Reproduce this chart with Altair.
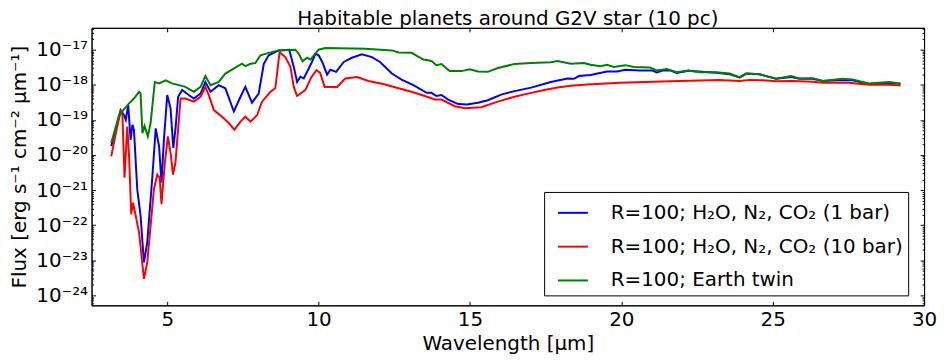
import altair as alt
import pandas as pd

# ---- data (wavelength in micron, log10 flux) ----
wl_blue = [3.15, 3.30, 3.46, 3.57, 3.63, 3.71, 3.79, 3.85, 3.90, 4.01, 4.12, 4.23, 4.34, 4.51,
           4.62, 4.73, 4.81, 4.89, 5.00, 5.11, 5.20, 5.27, 5.36, 5.49, 5.71, 5.88, 6.10, 6.26,
           6.43, 6.70, 6.92, 7.20, 7.42, 7.58, 7.80, 8.02, 8.19, 8.35, 8.68, 9.03, 9.18, 9.29,
           9.40, 9.51, 9.78, 9.90, 10.00, 10.12, 10.28, 10.39, 10.58, 10.83, 11.10, 11.43, 11.76,
           12.03, 12.42, 12.74, 13.13, 13.57, 13.73, 13.89, 14.06, 14.28, 14.61, 14.90, 15.26,
           15.59, 16.03, 16.47, 17.02, 17.67, 18.22, 18.43, 18.60, 18.98, 19.53, 19.86, 20.13,
           20.62, 21.01, 21.17, 21.39, 21.61, 21.83, 22.21, 23.14, 23.58, 23.91, 24.13, 24.57,
           25.11, 25.61, 25.88, 26.32, 26.65, 27.30, 27.63, 28.18, 28.84, 29.22]
lf_blue = [-19.75, -19.28, -18.72, -18.86, -19.00, -18.58, -19.57, -19.14, -19.28, -20.98, -21.74,
           -23.06, -22.49, -20.60, -19.24, -19.75, -20.79, -19.57, -18.29, -18.67, -19.80, -19.28,
           -18.34, -18.15, -18.29, -18.39, -18.25, -17.92, -18.20, -18.01, -18.10, -18.76, -18.34,
           -18.06, -18.51, -18.25, -17.40, -17.16, -17.02, -17.00, -17.49, -17.92, -17.77, -17.82,
           -17.35, -17.11, -17.16, -17.35, -17.71, -17.57, -17.63, -17.35, -17.23, -17.13, -17.21,
           -17.35, -17.68, -17.85, -18.01, -18.23, -18.23, -18.32, -18.29, -18.42, -18.55, -18.56,
           -18.51, -18.44, -18.28, -18.18, -18.08, -17.92, -17.82, -17.83, -17.75, -17.72, -17.62,
           -17.62, -17.57, -17.59, -17.59, -17.65, -17.59, -17.59, -17.66, -17.60, -17.66, -17.70,
           -17.79, -17.68, -17.70, -17.83, -17.78, -17.83, -17.83, -17.89, -17.86, -17.87, -17.98,
           -17.94, -17.98]

wl_red = [3.15, 3.30, 3.46, 3.52, 3.59, 3.68, 3.74, 3.81, 3.87, 3.96, 4.07, 4.23, 4.34, 4.45,
          4.56, 4.67, 4.75, 4.81, 4.92, 5.02, 5.11, 5.19, 5.27, 5.44, 5.60, 5.88, 6.10, 6.26,
          6.37, 6.54, 6.81, 7.03, 7.22, 7.42, 7.58, 7.75, 7.97, 8.13, 8.41, 8.57, 8.71, 8.90,
          9.07, 9.18, 9.29, 9.40, 9.56, 9.75, 9.93, 10.05, 10.20, 10.39, 10.61, 10.88, 11.27,
          11.65, 12.20, 12.64, 13.07, 13.51, 13.84, 14.06, 14.50, 14.83, 15.37, 15.92, 16.47,
          17.02, 17.50, 17.89, 18.33, 18.87, 19.97, 21.61, 23.25, 23.91, 24.24, 24.68, 25.11,
          25.66, 26.32, 26.65, 27.52, 28.18, 28.84, 29.22]
lf_red = [-20.04, -19.38, -18.76, -18.86, -20.65, -19.19, -20.04, -21.69, -21.36, -21.74, -22.21,
          -23.53, -23.06, -22.02, -20.98, -20.56, -20.65, -21.40, -20.23, -19.47, -19.94, -20.56,
          -20.23, -18.39, -18.39, -18.48, -18.34, -18.06, -18.29, -18.72, -18.91, -19.09, -19.28,
          -19.05, -18.91, -19.05, -18.86, -18.48, -18.20, -18.10, -17.07, -17.21, -17.49, -18.06,
          -18.32, -18.25, -18.15, -17.80, -17.58, -17.66, -18.06, -18.06, -18.06, -17.82, -17.78,
          -17.89, -17.99, -18.10, -18.20, -18.32, -18.42, -18.42, -18.61, -18.67, -18.64, -18.48,
          -18.34, -18.23, -18.14, -18.08, -18.03, -17.99, -17.94, -17.90, -17.86, -17.89, -17.86,
          -17.87, -17.90, -17.89, -17.91, -17.94, -17.94, -18.00, -18.00, -18.02]

wl_green = [3.15, 3.41, 3.74, 3.90, 4.07, 4.12, 4.18, 4.25, 4.36, 4.45, 4.59, 4.73, 4.95, 5.16,
            5.38, 5.60, 5.88, 6.10, 6.26, 6.43, 6.70, 6.92, 7.14, 7.47, 7.58, 7.75, 7.91, 8.08,
            8.35, 8.68, 9.23, 9.34, 9.47, 9.62, 9.73, 10.00, 10.22, 11.54, 12.42, 12.64, 13.07,
            13.46, 13.73, 13.89, 14.06, 14.33, 14.72, 14.99, 15.26, 15.59, 15.92, 16.47, 17.02,
            17.67, 17.89, 18.33, 18.76, 18.98, 19.31, 19.53, 19.75, 20.13, 20.41, 20.95, 21.17,
            21.50, 21.83, 22.21, 22.60, 23.14, 23.58, 23.91, 24.13, 24.57, 25.11, 25.61, 25.88,
            26.32, 26.65, 27.30, 27.63, 28.18, 28.84, 29.22]
lf_green = [-19.66, -18.86, -18.53, -18.39, -18.20, -18.25, -19.38, -19.17, -19.47, -19.09, -17.92,
            -17.96, -17.87, -17.96, -18.01, -18.06, -18.20, -18.06, -17.75, -18.01, -17.92, -17.68,
            -17.57, -17.40, -17.47, -17.40, -17.38, -17.16, -17.09, -17.02, -17.00, -17.11, -17.33,
            -17.23, -17.28, -17.00, -16.95, -16.97, -17.02, -17.08, -17.09, -17.28, -17.32, -17.44,
            -17.41, -17.61, -17.61, -17.56, -17.62, -17.63, -17.52, -17.41, -17.38, -17.36, -17.32,
            -17.40, -17.38, -17.43, -17.47, -17.43, -17.49, -17.44, -17.49, -17.51, -17.59, -17.55,
            -17.64, -17.59, -17.64, -17.64, -17.68, -17.79, -17.68, -17.70, -17.83, -17.75, -17.82,
            -17.81, -17.89, -17.83, -17.85, -17.96, -17.92, -17.96]

series_labels = ["R=100; H₂O, N₂, CO₂ (1 bar)",
                 "R=100; H₂O, N₂, CO₂ (10 bar)",
                 "R=100; Earth twin"]
series_colors = ["#0000ff", "#ff0000", "#008000"]

x_ticks = [5, 10, 15, 20, 25, 30]
y_exponents = [-24, -23, -22, -21, -20, -19, -18, -17]

# ---- table ----
rows = []
for name, wl, lf in zip(series_labels, [wl_blue, wl_red, wl_green], [lf_blue, lf_red, lf_green]):
    for i, (w, l) in enumerate(zip(wl, lf)):
        rows.append({"series": name, "wl": w, "flux": 10.0 ** l, "idx": i})
df = pd.DataFrame(rows)

SUP = {"0": "⁰", "1": "¹", "2": "²", "3": "³", "4": "⁴", "5": "⁵",
       "6": "⁶", "7": "⁷", "8": "⁸", "9": "⁹", "-": "⁻"}


def sup(n):
    return "".join(SUP[c] for c in str(n))


y_major = [10.0 ** e for e in y_exponents]
y_minor = [k * 10.0 ** e for e in range(-25, -16) for k in range(2, 10)
           if 5.2e-25 <= k * 10.0 ** e <= 4.2e-17]
label_expr = " : ".join(
    f"round(log(datum.value)/LN10) == {e} ? '10{sup(e)}'" for e in y_exponents
) + " : ''"

FONT = "DejaVu Sans"
x_scale = alt.Scale(domain=[2.5, 30], nice=False, zero=False)
y_scale = alt.Scale(type="log", domain=[5.2e-25, 4.2e-17], nice=False)
tick_major = alt.ExprRef(expr="-4")
tick_minor = alt.ExprRef(expr="-2")

base = alt.Chart(df)

lines = base.mark_line(strokeWidth=2, clip=True).encode(
    x=alt.X("wl:Q", scale=x_scale,
            axis=alt.Axis(orient="bottom", values=x_ticks, title="Wavelength [μm]",
                          labelFontSize=20, titleFontSize=20, tickSize=tick_major,
                          labelPadding=8, titleY=38, titleBaseline="middle",
                          titleFontWeight="normal", grid=False, labelFlush=False)),
    y=alt.Y("flux:Q", scale=y_scale,
            axis=alt.Axis(orient="left", values=y_major, labelExpr=label_expr,
                          title="Flux [erg s⁻¹ cm⁻² μm⁻¹]", labelFontSize=20,
                          titleFontSize=20, tickSize=tick_major, labelPadding=8,
                          titleX=-72, titleY=139.5, titleBaseline="middle",
                          titleFontWeight="normal", grid=False, labelFlush=False)),
    color=alt.Color("series:N", scale=alt.Scale(domain=series_labels, range=series_colors),
                    legend=alt.Legend(orient="none", legendX=455, legendY=165, title=None,
                                      strokeColor="black", fillColor="white", padding=5,
                                      symbolOffset=8, symbolType="stroke", symbolSize=900,
                                      symbolStrokeWidth=2, labelFontSize=20, labelFont=FONT,
                                      labelOffset=22, rowPadding=8, labelLimit=500,
                                      cornerRadius=0, labelColor="black")),
    order="idx:Q",
)

frame = base.mark_line(opacity=0).encode(
    x=alt.X("wl:Q", scale=x_scale,
            axis=alt.Axis(orient="top", values=x_ticks, labels=False, title=None,
                          tickSize=tick_major, grid=False)),
    y=alt.Y("flux:Q", scale=y_scale,
            axis=alt.Axis(orient="right", values=y_major, labels=False, title=None,
                          tickSize=tick_major, grid=False)),
    detail="series:N",
)

minor_left = base.mark_line(opacity=0).encode(
    x=alt.X("wl:Q", scale=x_scale, axis=None),
    y=alt.Y("flux:Q", scale=y_scale,
            axis=alt.Axis(orient="left", values=y_minor, labels=False, title=None,
                          domain=False, tickSize=tick_minor, grid=False)),
    detail="series:N",
)

minor_right = base.mark_line(opacity=0).encode(
    x=alt.X("wl:Q", scale=x_scale, axis=None),
    y=alt.Y("flux:Q", scale=y_scale,
            axis=alt.Axis(orient="right", values=y_minor, labels=False, title=None,
                          domain=False, tickSize=tick_minor, grid=False)),
    detail="series:N",
)

chart = alt.layer(lines, frame, minor_left, minor_right).resolve_axis(
    x="independent", y="independent"
).properties(
    width=837,
    height=279,
    title=alt.TitleParams("Habitable planets around G2V star (10 pc)", fontSize=20,
                          font=FONT, fontWeight="normal", anchor="middle", offset=-2,
                          color="black"),
    autosize=alt.AutoSizeParams(type="none"),
    padding={"left": 84, "top": 19, "right": 15, "bottom": 50},
    background="white",
).configure_view(
    stroke="black", strokeWidth=1
).configure_axis(
    labelFont=FONT, titleFont=FONT, domainColor="black", tickColor="black",
    labelColor="black", titleColor="black", domainWidth=1, tickWidth=1,
)

chart.save("out.html", embed_options={"renderer": "svg", "actions": False})
